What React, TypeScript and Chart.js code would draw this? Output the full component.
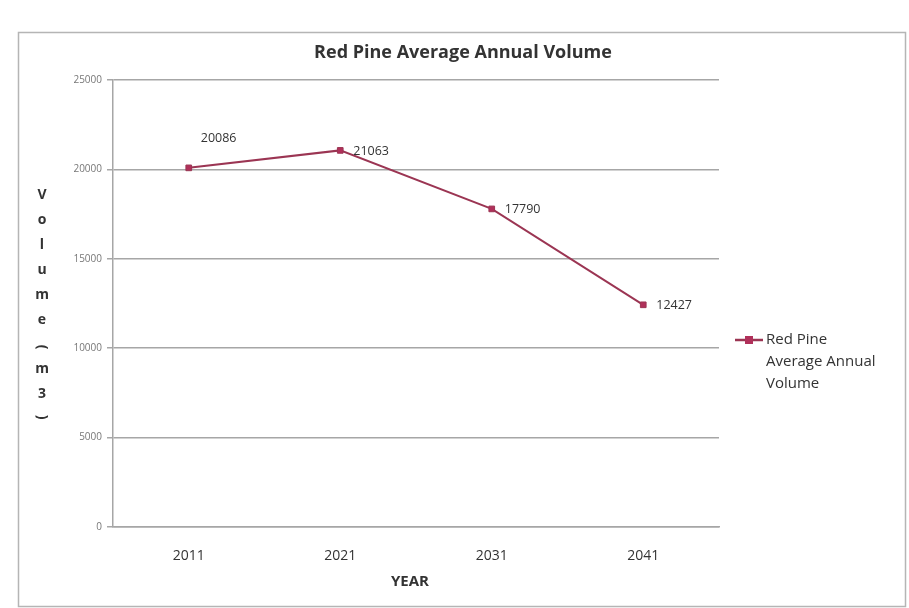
import React, { useEffect, useRef } from "react";
import { Chart, registerables } from "chart.js";

Chart.register(...registerables);

const categories = ["2011", "2021", "2031", "2041"];
const volumes = [20086, 21063, 17790, 12427];
const seriesLabel = "Red Pine Average Annual Volume";
const chartTitle = "Red Pine Average Annual Volume";
const xAxisTitle = "YEAR";
const yAxisTitle = "Volume (m3)";
const yMin = 0;
const yMax = 25000;
const yStep = 5000;

const FONT = "'Open Sans', Lato, sans-serif";
const LINE_COLOR = "#9b3553";
const POINT_COLOR = "#b0305a";
const GRID_COLOR = "#a6a6a6";
const TEXT_COLOR = "#333333";

const decorPlugin = {
  id: "decor",
  afterDraw(chart: any) {
    const ctx: CanvasRenderingContext2D = chart.ctx;
    const area = chart.chartArea;
    ctx.save();

    // outer border
    ctx.strokeStyle = "#b5b5b5";
    ctx.lineWidth = 1.5;
    ctx.strokeRect(18.5, 32.5, 887, 574);

    // title
    ctx.fillStyle = TEXT_COLOR;
    ctx.font = `bold 18px ${FONT}`;
    ctx.textAlign = "center";
    ctx.textBaseline = "middle";
    ctx.fillText(chartTitle, 463, 53);

    // x axis title
    ctx.font = `bold 15px ${FONT}`;
    ctx.fillText(xAxisTitle, (area.left + area.right) / 2 - 6, 582);

    // y axis title, stacked letters
    ctx.font = `bold 14px ${FONT}`;
    let y = 195;
    for (const ch of yAxisTitle) {
      if (ch === " ") continue;
      if (ch === "(" || ch === ")") {
        const cy = y + (ch === "(" ? 2 : -2);
        ctx.save();
        ctx.translate(42, cy);
        ctx.rotate(Math.PI / 2);
        ctx.fillText(ch, 0, 0);
        ctx.restore();
        y += 24;
      } else {
        ctx.fillText(ch, 42, y);
        y += 25;
      }
    }

    // data labels
    const meta = chart.getDatasetMeta(0);
    ctx.font = `12.5px ${FONT}`;
    ctx.textAlign = "left";
    ctx.fillStyle = TEXT_COLOR;
    meta.data.forEach((pt: any, i: number) => {
      const v = chart.data.datasets[0].data[i];
      if (i === 0) {
        ctx.fillText(String(v), pt.x + 12, pt.y - 29);
      } else {
        ctx.fillText(String(v), pt.x + 13, pt.y + 1);
      }
    });

    // legend
    const lx = area.right + 16;
    const ly = 340;
    ctx.strokeStyle = LINE_COLOR;
    ctx.lineWidth = 2.5;
    ctx.beginPath();
    ctx.moveTo(lx, ly);
    ctx.lineTo(lx + 28, ly);
    ctx.stroke();
    ctx.fillStyle = POINT_COLOR;
    ctx.fillRect(lx + 14 - 4, ly - 4, 8, 8);

    ctx.font = `15px ${FONT}`;
    ctx.fillStyle = TEXT_COLOR;
    const label = chart.data.datasets[0].label as string;
    const words = label.split(" ");
    const lines: string[] = [];
    let cur = "";
    for (const w of words) {
      const test = cur ? cur + " " + w : w;
      if (ctx.measureText(test).width > 117 && cur) {
        lines.push(cur);
        cur = w;
      } else {
        cur = test;
      }
    }
    if (cur) lines.push(cur);
    lines.forEach((t, i) => ctx.fillText(t, lx + 31, ly + i * 22));

    ctx.restore();
  },
};

export default function App() {
  const ref = useRef<HTMLCanvasElement>(null);

  useEffect(() => {
    document.body.style.margin = "0";
    const canvas = ref.current!;
    const chart = new Chart(canvas, {
      type: "line",
      data: {
        labels: categories,
        datasets: [
          {
            label: seriesLabel,
            data: volumes,
            borderColor: LINE_COLOR,
            borderWidth: 2,
            pointStyle: "rect",
            pointRadius: 4,
            pointBackgroundColor: POINT_COLOR,
            pointBorderColor: LINE_COLOR,
            pointBorderWidth: 1,
            tension: 0,
          },
        ],
      },
      options: {
        animation: false,
        responsive: false,
        maintainAspectRatio: false,
        layout: { padding: { left: 53, right: 190, top: 80, bottom: 33 } },
        plugins: {
          legend: { display: false },
          title: { display: false },
          tooltip: { enabled: false },
        },
        scales: {
          x: {
            offset: true,
            grid: { display: false },
            border: { display: true, color: GRID_COLOR, width: 1.5 },
            ticks: {
              color: TEXT_COLOR,
              font: { family: FONT, size: 14 },
              padding: 13,
              maxRotation: 0,
            },
            afterFit(scale: any) {
              scale.height = 48;
            },
          },
          y: {
            min: yMin,
            max: yMax,
            ticks: {
              stepSize: yStep,
              color: "#777777",
              font: { family: FONT, size: 10 },
              padding: 5,
              callback: (v: any) => String(v),
            },
            grid: {
              color: GRID_COLOR,
              lineWidth: 1.5,
              tickLength: 6,
            },
            border: { display: true, color: GRID_COLOR, width: 1.5 },
            afterFit(scale: any) {
              scale.width = 60;
            },
          },
        },
      },
      plugins: [decorPlugin],
    });
    return () => chart.destroy();
  }, []);

  return (
    <div style={{ width: 909, height: 608, background: "#ffffff" }}>
      <canvas ref={ref} width={909} height={608} style={{ display: "block" }} />
    </div>
  );
}
